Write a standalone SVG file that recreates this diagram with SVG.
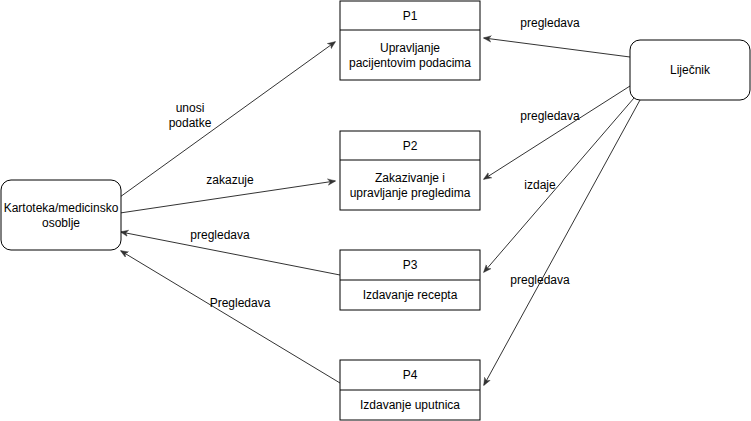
<svg xmlns="http://www.w3.org/2000/svg" width="751" height="421" viewBox="0 0 751 421">
<style>
.box{fill:#fff;stroke:#000;stroke-width:1}
.t{font-family:"Liberation Sans",Arial,sans-serif;font-size:12px;fill:#000;text-anchor:middle}
.e{fill:none;stroke:#333;stroke-width:1;marker-end:url(#arr)}
</style>
<defs>
<marker id="arr" viewBox="0 0 10 10" refX="9" refY="5" markerWidth="8" markerHeight="8" markerUnits="userSpaceOnUse" orient="auto">
<path d="M0,1 L10,5 L0,9 L3,5 Z" fill="#333" stroke="#333" stroke-width="0.5"/>
</marker>
</defs>
<rect width="751" height="421" fill="#fff"/>
<g id="edges">
<line class="e" x1="120" y1="197" x2="335" y2="42"/>
<line class="e" x1="120" y1="213" x2="335" y2="181"/>
<line class="e" x1="340" y1="275" x2="121" y2="232"/>
<line class="e" x1="340" y1="383" x2="121" y2="251"/>
<line class="e" x1="630" y1="57" x2="484" y2="38"/>
<line class="e" x1="630" y1="86" x2="484" y2="179"/>
<line class="e" x1="634" y1="98" x2="484" y2="272"/>
<line class="e" x1="640" y1="100" x2="484" y2="385"/>
<text class="t" x="190" y="112">unosi</text>
<text class="t" x="190" y="127">podatke</text>
<text class="t" x="230" y="184">zakazuje</text>
<text class="t" x="220" y="239">pregledava</text>
<text class="t" x="240" y="307">Pregledava</text>
<text class="t" x="550" y="27">pregledava</text>
<text class="t" x="550" y="120">pregledava</text>
<text class="t" x="540" y="189">izdaje</text>
<text class="t" x="540" y="284">pregledava</text>
</g>
<g id="kartoteka">
<rect class="box" x="1" y="180" width="120" height="70" rx="10"/>
<text class="t" x="61" y="212">Kartoteka/medicinsko</text>
<text class="t" x="61" y="227">osoblje</text>
</g>
<g id="lijecnik">
<rect class="box" x="630" y="40" width="120" height="60" rx="10"/>
<text class="t" x="690" y="74">Liječnik</text>
</g>
<g id="p1">
<rect class="box" x="340" y="1" width="140" height="79"/>
<line x1="340" y1="30" x2="480" y2="30" stroke="#000"/>
<text class="t" x="410" y="20">P1</text>
<text class="t" x="410" y="52">Upravljanje</text>
<text class="t" x="410" y="67">pacijentovim podacima</text>
</g>
<g id="p2">
<rect class="box" x="340" y="131" width="140" height="79"/>
<line x1="340" y1="160" x2="480" y2="160" stroke="#000"/>
<text class="t" x="410" y="150">P2</text>
<text class="t" x="410" y="182">Zakazivanje i</text>
<text class="t" x="410" y="197">upravljanje pregledima</text>
</g>
<g id="p3">
<rect class="box" x="340" y="250" width="140" height="60"/>
<line x1="340" y1="280" x2="480" y2="280" stroke="#000"/>
<text class="t" x="410" y="269">P3</text>
<text class="t" x="410" y="299">Izdavanje recepta</text>
</g>
<g id="p4">
<rect class="box" x="340" y="360" width="140" height="60"/>
<line x1="340" y1="390" x2="480" y2="390" stroke="#000"/>
<text class="t" x="410" y="379">P4</text>
<text class="t" x="410" y="409">Izdavanje uputnica</text>
</g>
</svg>
